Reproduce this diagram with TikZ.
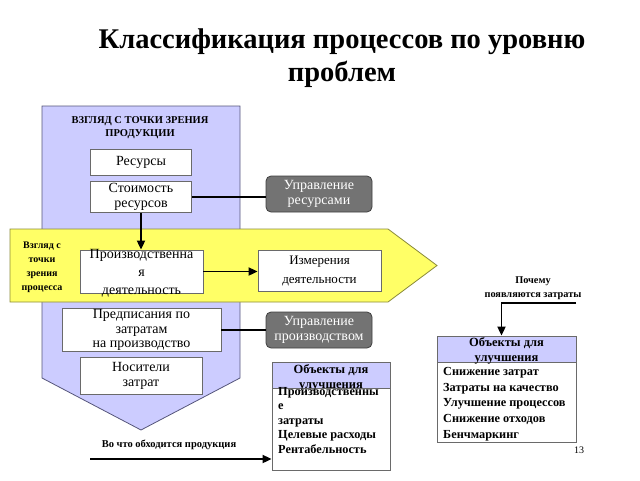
\documentclass[tikz,border=0pt]{standalone}
\usepackage{fontspec}
\setmainfont{Liberation Serif}
\usetikzlibrary{arrows.meta}
\definecolor{lav}{HTML}{CCCCFF}
\definecolor{lavline}{HTML}{55557A}
\definecolor{yel}{HTML}{FFFF66}
\definecolor{yelline}{HTML}{8A8A3A}
\definecolor{gbox}{HTML}{737373}
\definecolor{gline}{HTML}{3F3F3F}
\definecolor{wline}{HTML}{6A6A6A}
\tikzset{
  wbox/.style={draw=wline, fill=white, line width=0.8pt, inner sep=0pt},
  gbx/.style={draw=gline, fill=gbox, rounded corners=5pt, line width=0.8pt, text=white,
    font=\fontsize{14}{15}\selectfont, align=center, inner sep=0pt},
  btxt/.style={font=\bfseries\fontsize{12.3}{14.5}\selectfont, align=left, inner sep=0pt},
  htxt/.style={font=\bfseries\fontsize{12.5}{15}\selectfont, align=center, inner sep=0pt},
  stxt/.style={font=\bfseries\fontsize{10.3}{13.5}\selectfont, align=center, inner sep=0pt},
  ntxt/.style={font=\fontsize{14}{15}\selectfont, align=center, inner sep=0pt},
  conn/.style={line width=1.8pt},
  arr/.style={line width=1.8pt, -{Triangle[length=9pt,width=8pt]}}
}
\begin{document}
\begin{tikzpicture}[x=1pt,y=-1pt]
\useasboundingbox (0,0) rectangle (640,480);
% title
\node[font=\bfseries\fontsize{28.5}{33}\selectfont, align=center] (title) at (342,58)
  {Классификация процессов по уровню\\проблем};
% purple pentagon
\draw[fill=lav, draw=lavline, line width=0.8pt] (42,106) -- (240,106) -- (240,378) -- (141,430) -- (42,378) -- cycle;
\node[stxt, font=\bfseries\fontsize{10.5}{13}\selectfont] (prodview) at (140,127.5) {ВЗГЛЯД С ТОЧКИ ЗРЕНИЯ\\ПРОДУКЦИИ};
% yellow arrow
\draw[fill=yel, draw=yelline, line width=0.8pt] (10,229) -- (388,229) -- (437,265.5) -- (388,302) -- (10,302) -- cycle;
\node[stxt, font=\bfseries\fontsize{10}{14}\selectfont] (procview) at (42,267) {Взгляд с\\точки\\зрения\\процесса};
% boxes
\node[wbox, minimum width=101pt, minimum height=26pt, ntxt] (res) at (141,162) {Ресурсы};
\node[wbox, minimum width=101pt, minimum height=31pt, ntxt] (cost) at (141,197) {Стоимость\\ресурсов};
\node[gbx, minimum width=106pt, minimum height=36pt] (uprres) at (319,194) {Управление\\ресурсами};
\node[wbox, minimum width=123pt, minimum height=43pt] (prod) at (141.5,271.5) {};
\node[ntxt, font=\fontsize{14}{18}\selectfont] (prodt) at (141.5,273) {Производственна\\я\\деятельность};
\node[wbox, minimum width=123pt, minimum height=41pt, ntxt, font=\fontsize{13}{19}\selectfont] (meas) at (319.5,270.5) {Измерения\\деятельности};
\node[wbox, minimum width=159pt, minimum height=43pt, ntxt, font=\fontsize{14}{14.5}\selectfont] (presc) at (141.5,330) {Предписания по\\затратам\\на производство};
\node[gbx, minimum width=106pt, minimum height=36pt] (uprprod) at (319,330) {Управление\\производством};
\node[wbox, minimum width=122pt, minimum height=37pt, ntxt] (carr) at (141,376) {Носители\\затрат};
% connectors
\draw[conn] (cost.east) -- (cost.east -| uprres.west);
\draw[arr] (cost.south) -- (cost.south |- prod.north);
\draw[arr] (prod.east) -- (prod.east -| meas.west);
\draw[conn] (presc.east) -- (presc.east -| uprprod.west);
% bottom label and arrow
\node[stxt, font=\bfseries\fontsize{10.5}{11}\selectfont] (whatcost) at (169,445) {Во что обходится продукция};
\coordinate (bw) at (90,459);
% page number
\node[font=\fontsize{10}{12}\selectfont, inner sep=0pt] (pg) at (579,450) {13};
% objects box 1
\node[wbox, minimum width=118pt, minimum height=82pt] (ob1b) at (331,429) {};
\node[wbox, fill=lav, minimum width=118pt, minimum height=26pt] (ob1h) at (331,375) {};
\node[htxt] (ob1ht) at (331,378) {Объекты для\\улучшения};
\node[btxt, anchor=north west] (ob1t) at (278,387) {Производственны\\е\\затраты\\Целевые расходы\\Рентабельность};
\draw[arr] (bw) -- (bw -| ob1b.west);
% objects box 2
\node[wbox, minimum width=139pt, minimum height=80pt] (ob2b) at (506.5,402) {};
\node[wbox, fill=lav, minimum width=139pt, minimum height=26pt] (ob2h) at (506.5,349) {};
\node[htxt] (ob2ht) at (506.5,351) {Объекты для\\улучшения};
\node[btxt, font=\bfseries\fontsize{12.3}{15.8}\selectfont, anchor=north west] (ob2t) at (443,367) {Снижение затрат\\Затраты на качество\\Улучшение процессов\\Снижение отходов\\Бенчмаркинг};
\node[stxt] (why) at (533,288) {Почему\\появляются затраты};
\coordinate (pc) at (576,303);
\draw[arr] (pc) -| ([xshift=-5pt]ob2h.north);
\end{tikzpicture}
\end{document}
